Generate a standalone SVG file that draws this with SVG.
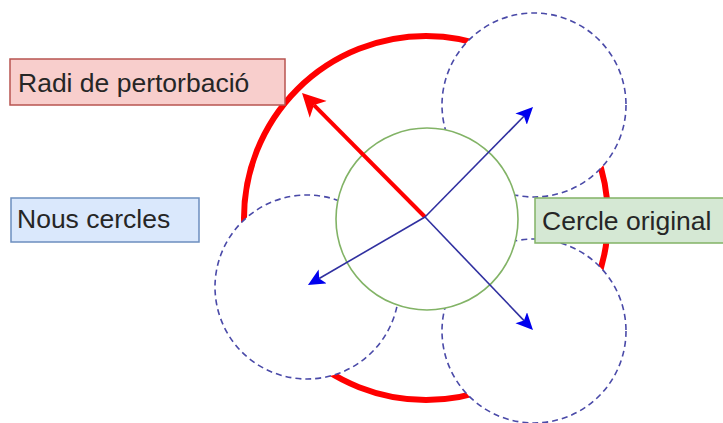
<svg xmlns="http://www.w3.org/2000/svg" width="723" height="423" viewBox="0 0 723 423">
  <style>
    .label { font-family: "Liberation Sans", Arial, sans-serif; font-size: 26.5px; fill: #262626; }
    .box { stroke-width: 1.5; }
    .dashed { fill: #ffffff; stroke: #4a4aa8; stroke-width: 1.6; stroke-dasharray: 6 4; }
    .blue-arrow { stroke: #3030a0; stroke-width: 1.6; fill: none; }
  </style>
  <defs>
    <marker id="arrowBlue" markerUnits="userSpaceOnUse" markerWidth="20" markerHeight="18" refX="4" refY="8" orient="auto">
      <path d="M0,0 L17,8 L0,16 L4,8 Z" fill="#0000ee"/>
    </marker>
    <marker id="arrowRed" markerUnits="userSpaceOnUse" markerWidth="26" markerHeight="26" refX="6" refY="12" orient="auto">
      <path d="M0,0 L23,12 L0,24 L6,12 Z" fill="#ff0000"/>
    </marker>
  </defs>
  <rect width="723" height="423" fill="#ffffff"/>

  <!-- perturbation radius circle -->
  <g id="perturbation-circle">
    <circle cx="426" cy="218" r="182" fill="none" stroke="#ff0000" stroke-width="6"/>
  </g>

  <!-- new circles -->
  <g id="new-circle-top-right"><circle class="dashed" cx="534" cy="105" r="92"/></g>
  <g id="new-circle-bottom-right"><circle class="dashed" cx="534" cy="331" r="92"/></g>
  <g id="new-circle-bottom-left"><circle class="dashed" cx="307" cy="287" r="92"/></g>

  <!-- original circle -->
  <g id="original-circle">
    <circle cx="427" cy="219" r="91" fill="#ffffff" stroke="#82b366" stroke-width="1.6"/>
  </g>

  <!-- connectors -->
  <g id="connectors">
    <line x1="425" y1="217" x2="314" y2="105.1" stroke="#ff0000" stroke-width="4" marker-end="url(#arrowRed)"/>
    <line class="blue-arrow" x1="425" y1="217" x2="523.9" y2="116.3" marker-end="url(#arrowBlue)"/>
    <line class="blue-arrow" x1="425" y1="217" x2="319.2" y2="278.5" marker-end="url(#arrowBlue)"/>
    <line class="blue-arrow" x1="425" y1="217" x2="524.0" y2="320.6" marker-end="url(#arrowBlue)"/>
  </g>

  <!-- labels -->
  <g id="label-radius">
    <rect class="box" x="10" y="59" width="275" height="46" fill="#f8cecc" stroke="#b85450"/>
    <text class="label" x="18" y="92">Radi de pertorbació</text>
  </g>
  <g id="label-new">
    <rect class="box" x="11" y="198" width="188" height="44" fill="#dae8fc" stroke="#6c8ebf"/>
    <text class="label" x="17" y="228">Nous cercles</text>
  </g>
  <g id="label-original">
    <rect class="box" x="535" y="198" width="200" height="45" fill="#d5e8d4" stroke="#82b366"/>
    <text class="label" x="542" y="230">Cercle original</text>
  </g>
</svg>
